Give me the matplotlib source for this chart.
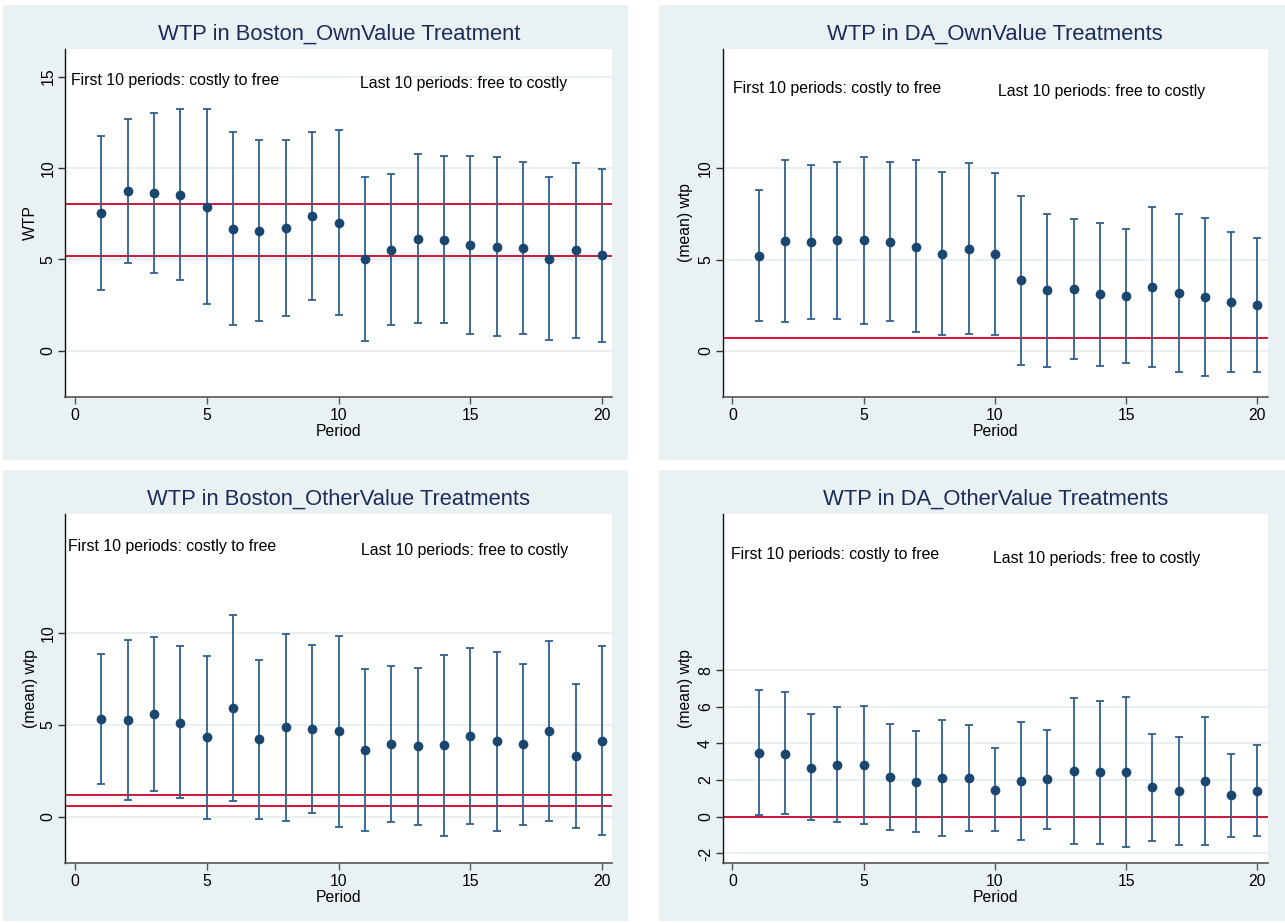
import matplotlib
matplotlib.use("Agg")
import matplotlib.pyplot as plt
from matplotlib.patches import Rectangle
import numpy as np

plt.rcParams['font.family'] = ['Liberation Sans', 'DejaVu Sans']
plt.rcParams['axes.unicode_minus'] = False

periods = list(range(1, 21))

# Panel 1: Boston_OwnValue
bo_mean = [7.54, 8.72, 8.63, 8.54, 7.88, 6.66, 6.57, 6.70, 7.35, 7.01,
           5.04, 5.53, 6.11, 6.06, 5.77, 5.69, 5.62, 5.04, 5.49, 5.22]
bo_hi = [11.73, 12.66, 13.03, 13.23, 13.23, 11.95, 11.53, 11.51, 11.95, 12.10,
         9.51, 9.69, 10.75, 10.64, 10.64, 10.58, 10.35, 9.51, 10.27, 9.93]
bo_lo = [3.32, 4.80, 4.25, 3.89, 2.57, 1.39, 1.61, 1.88, 2.79, 1.95,
         0.55, 1.39, 1.51, 1.50, 0.89, 0.80, 0.89, 0.57, 0.71, 0.49]
bo_ref = [8.01, 5.20]

# Panel 2: DA_OwnValue
do_mean = [5.20, 6.00, 5.95, 6.04, 6.04, 5.97, 5.71, 5.31, 5.60, 5.31,
           3.87, 3.32, 3.38, 3.10, 3.01, 3.49, 3.16, 2.96, 2.66, 2.50]
do_hi = [8.81, 10.42, 10.15, 10.31, 10.62, 10.31, 10.42, 9.76, 10.26, 9.74,
         8.49, 7.50, 7.23, 7.00, 6.68, 7.85, 7.50, 7.26, 6.50, 6.17]
do_lo = [1.61, 1.59, 1.77, 1.75, 1.48, 1.61, 1.02, 0.86, 0.95, 0.86,
         -0.77, -0.86, -0.46, -0.80, -0.66, -0.88, -1.15, -1.37, -1.15, -1.17]
do_ref = [0.69]

# Panel 3: Boston_OtherValue
bt_mean = [5.34, 5.27, 5.59, 5.14, 4.33, 5.92, 4.24, 4.88, 4.77, 4.66,
           3.67, 3.99, 3.84, 3.89, 4.41, 4.13, 3.97, 4.70, 3.31, 4.13]
bt_hi = [8.90, 9.63, 9.82, 9.31, 8.79, 11.01, 8.57, 9.96, 9.36, 9.87,
         8.08, 8.24, 8.14, 8.83, 9.20, 9.01, 8.35, 9.60, 7.22, 9.29]
bt_lo = [1.79, 0.90, 1.41, 1.01, -0.13, 0.84, -0.11, -0.22, 0.18, -0.57,
         -0.75, -0.26, -0.46, -1.04, -0.40, -0.75, -0.44, -0.24, -0.59, -1.01]
bt_ref = [1.21, 0.60]

# Panel 4: DA_OtherValue
dt_mean = [3.47, 3.45, 2.68, 2.83, 2.83, 2.19, 1.92, 2.10, 2.12, 1.46,
           1.97, 2.05, 2.50, 2.43, 2.43, 1.61, 1.41, 1.94, 1.19, 1.42]
dt_hi = [6.89, 6.81, 5.59, 5.97, 6.06, 5.08, 4.69, 5.28, 4.99, 3.75,
         5.17, 4.75, 6.50, 6.34, 6.52, 4.53, 4.33, 5.42, 3.43, 3.91]
dt_lo = [0.09, 0.15, -0.20, -0.29, -0.40, -0.71, -0.84, -1.06, -0.75, -0.80,
         -1.24, -0.68, -1.48, -1.50, -1.66, -1.33, -1.52, -1.55, -1.08, -1.06]
dt_ref = [0.0]

titles = ["WTP in Boston_OwnValue Treatment", "WTP in DA_OwnValue Treatments",
          "WTP in Boston_OtherValue Treatments", "WTP in DA_OtherValue Treatments"]
ylabels = ["WTP", "(mean) wtp", "(mean) wtp", "(mean) wtp"]
yticks_list = [[0, 5, 10, 15], [0, 5, 10], [0, 5, 10], [-2, 0, 2, 4, 6, 8]]
xticks = [0, 5, 10, 15, 20]
note_first = "First 10 periods: costly to free"
note_last = "Last 10 periods: free to costly"
note_pos = [((3.81, 14.78), (14.74, 14.62)),
            ((4.00, 14.34), (14.05, 14.18)),
            ((3.67, 14.72), (14.79, 14.55)),
            ((3.91, 14.32), (13.86, 14.10))]

W, H = 1285, 923
fig = plt.figure(figsize=(W / 100, H / 100), dpi=100)
fig.patch.set_facecolor('white')

BG = '#e9f1f3'
panels_bg = [(3, 5, 628, 460), (659, 5, 1285, 460), (3, 470, 628, 921), (659, 470, 1285, 921)]
for (x0, y0, x1, y1) in panels_bg:
    fig.patches.append(Rectangle((x0 / W, 1 - y1 / H), (x1 - x0) / W, (y1 - y0) / H,
                                 transform=fig.transFigure, facecolor=BG, edgecolor='none',
                                 zorder=-10))

axes_px = [(65.3, 48.7, 612.3, 396.7), (722.6, 48.7, 1267.7, 397.0),
           (65.3, 513.7, 612.3, 863.0), (722.6, 513.7, 1267.7, 863.0)]

series = [(bo_mean, bo_lo, bo_hi, bo_ref), (do_mean, do_lo, do_hi, do_ref),
          (bt_mean, bt_lo, bt_hi, bt_ref), (dt_mean, dt_lo, dt_hi, dt_ref)]

NAVY = '#1a476f'
BAR = '#31608c'
RED = '#cf1538'

for i, (x0, y0, x1, y1) in enumerate(axes_px):
    ax = fig.add_axes([x0 / W, 1 - y1 / H, (x1 - x0) / W, (y1 - y0) / H], zorder=5)
    ax.set_facecolor('white')
    mean, lo, hi, ref = series[i]
    mean = np.array(mean); lo = np.array(lo); hi = np.array(hi)
    ax.errorbar(periods, mean, yerr=[mean - lo, hi - mean], fmt='none',
                ecolor=BAR, elinewidth=1.3, capsize=2.8, capthick=1.3, zorder=3)
    ax.plot(periods, mean, 'o', color=NAVY, markersize=6.0, zorder=4)
    for r in ref:
        ax.axhline(r, color=RED, lw=1.4, zorder=2)
    ax.set_xlim(-0.37, 20.39)
    ax.set_ylim(-2.52, 16.53)
    ax.set_xticks(xticks)
    ax.set_yticks(yticks_list[i])
    ax.grid(axis='y', color='#e4edf0', lw=1.2, zorder=0)
    ax.set_axisbelow(True)
    for s in ['top', 'right']:
        ax.spines[s].set_visible(False)
    ax.spines['left'].set_color('#111111')
    ax.spines['left'].set_linewidth(1.0)
    ax.spines['bottom'].set_color('#555555')
    ax.spines['bottom'].set_linewidth(1.2)
    ax.tick_params(axis='x', length=4.8, width=1, color='#555555', pad=3.0, labelsize=11.3)
    ax.tick_params(axis='y', length=4.8, width=1, color='#333333', pad=2.2, labelsize=11.4,
                   labelrotation=90)
    for lab in ax.get_yticklabels():
        lab.set_va('center')
    ax.set_xlabel("Period", fontsize=11.3, labelpad=2)
    ax.set_ylabel(ylabels[i], fontsize=11.3)
    ax.yaxis.set_label_coords(-35 / (x1 - x0) if i % 2 == 0 else -37 / (x1 - x0), 0.5)
    ax.xaxis.set_label_coords(0.5, -35 / (y1 - y0))
    ax.xaxis.get_label().set_va('center')
    ax.yaxis.get_label().set_va('center')
    (fx, fy), (lx, ly) = note_pos[i]
    ax.text(fx, fy, note_first, fontsize=11.4, ha='center', va='center', color='black')
    ax.text(lx, ly, note_last, fontsize=11.4, ha='center', va='center', color='black')
    ax.text(0.5, 1 + 15 / (y1 - y0), titles[i], transform=ax.transAxes, fontsize=15.8,
            ha='center', va='center', color='#1c2c5a')

fig.savefig("out.png", dpi=100, facecolor='white')
